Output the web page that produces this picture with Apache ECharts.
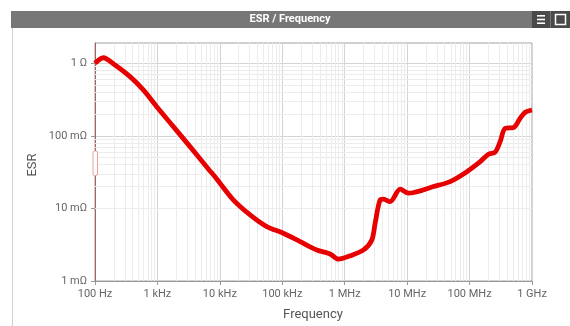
<!DOCTYPE html>
<html><head><meta charset="utf-8">
<script src="https://cdn.jsdelivr.net/npm/echarts@6/dist/echarts.min.js"></script>
<style>html,body{margin:0;padding:0;background:#fff}#c{width:570px;height:326px}</style>
</head><body><div id="c"></div>
<script>
// Frequency (Hz)
const freq = [100, 136, 209, 364, 594, 975, 1800, 3330, 6540, 8910, 16400, 30500, 56400, 104000, 193000, 357000, 583000, 793000, 1220000, 2000000, 2720000, 3070000, 3690000, 4170000, 5340000, 7740000, 10500000, 26400000, 48800000, 90600000, 148000000, 201000000, 257000000, 309000000, 372000000, 506000000, 647000000, 778000000, 1000000000];
// ESR (Ohm)
const esr = [1.0, 1.19, 0.947, 0.654, 0.429, 0.252, 0.134, 0.071, 0.035, 0.0255, 0.0131, 0.00813, 0.00561, 0.00455, 0.00349, 0.00268, 0.00236, 0.0020, 0.00222, 0.00268, 0.00368, 0.00625, 0.0131, 0.0134, 0.0124, 0.0184, 0.0162, 0.0200, 0.0234, 0.0321, 0.0441, 0.0558, 0.0595, 0.0832, 0.127, 0.130, 0.175, 0.211, 0.227];
const xTicks = [1e2, 1e3, 1e4, 1e5, 1e6, 1e7, 1e8, 1e9];
const xTickLabels = ['100 Hz', '1 kHz', '10 kHz', '100 kHz', '1 MHz', '10 MHz', '100 MHz', '1 GHz'];
const yTicks = [0.001, 0.01, 0.1, 1];
const yTickLabels = ['1 mΩ', '10 mΩ', '100 mΩ', '1 Ω'];

const xMinor = [], yMinor = [];
for (let d = 0; d < xTicks.length - 1; d++) for (let k = 2; k <= 9; k++) xMinor.push(xTicks[d] * k);
for (let d = 0; d < yTicks.length; d++) for (let k = 2; k <= 9; k++) { const v = yTicks[d] * k; if (v < 1.9) yMinor.push(v); }

const chart = echarts.init(document.getElementById('c'), null, {renderer: 'canvas'});
const font = 'Roboto, "Open Sans", sans-serif';
chart.setOption({
  animation: false,
  grid: {left: 95, right: 38, top: 43, bottom: 45, show: true, borderColor: '#a0a0a0', borderWidth: 1},
  xAxis: {
    type: 'log', min: 100, max: 1e9, splitNumber: 7, logBase: 10,
    axisLine: {show: true, lineStyle: {color: '#999'}},
    axisTick: {show: true, length: 4, lineStyle: {color: '#999'}, customValues: xTicks},
    axisLabel: {color: '#666', fontSize: 11, fontFamily: font, margin: 8, customValues: xTicks,
      formatter: v => { const i = xTicks.findIndex(t => Math.abs(t - v) / t < 1e-6); return i >= 0 ? xTickLabels[i] : ''; }},
    splitLine: {show: true, lineStyle: {color: '#d4d4d4'}}
  },
  yAxis: {
    type: 'log', min: 0.001, max: 1.9, splitNumber: 3, logBase: 10,
    axisLine: {show: true, lineStyle: {color: '#a86060'}},
    axisTick: {show: true, length: 4, lineStyle: {color: '#999'}, customValues: yTicks},
    axisLabel: {color: '#666', fontSize: 11, fontFamily: font, margin: 8, customValues: yTicks,
      formatter: v => { const i = yTicks.findIndex(t => Math.abs(t - v) / t < 1e-6); return i >= 0 ? yTickLabels[i] : ''; }},
    splitLine: {show: true, lineStyle: {color: '#d4d4d4'}}
  },
  series: [{
    type: 'line', data: freq.map((f, i) => [f, esr[i]]), smooth: 0.3, showSymbol: false,
    lineStyle: {color: '#e60000', width: 4.8}, z: 5,
    markLine: {silent: true, symbol: 'none', label: {show: false}, animation: false,
      lineStyle: {color: '#ececec', type: 'solid', width: 1},
      data: xMinor.map(v => ({xAxis: v})).concat(yMinor.map(v => ({yAxis: v})))}
  }],
  graphic: [
    {type: 'rect', shape: {x: 11, y: 11, width: 559, height: 17}, style: {fill: '#777'}, z: 10},
    {type: 'rect', shape: {x: 532, y: 11, width: 38, height: 17}, style: {fill: '#4a4a4a'}, z: 11},
    {type: 'line', shape: {x1: 550.5, y1: 11, x2: 550.5, y2: 28}, style: {stroke: '#777', lineWidth: 1}, z: 12},
    {type: 'rect', shape: {x: 537, y: 15, width: 8, height: 1.6}, style: {fill: '#fff'}, z: 12},
    {type: 'rect', shape: {x: 537, y: 18.7, width: 8, height: 1.6}, style: {fill: '#fff'}, z: 12},
    {type: 'rect', shape: {x: 537, y: 22.4, width: 8, height: 1.6}, style: {fill: '#fff'}, z: 12},
    {type: 'rect', shape: {x: 555.5, y: 14.5, width: 10, height: 10}, style: {fill: 'none', stroke: '#fff', lineWidth: 1.5}, z: 12},
    {type: 'text', x: 290, y: 19.5, style: {text: 'ESR / Frequency', fill: '#fff', font: 'bold 11px ' + font, textAlign: 'center', textVerticalAlign: 'middle'}, z: 12},
    {type: 'line', shape: {x1: 12.5, y1: 28, x2: 12.5, y2: 326}, style: {stroke: '#d0d0d0', lineWidth: 1}, z: 1},
    {type: 'text', x: 313, y: 315, style: {text: 'Frequency', fill: '#555', font: '13px ' + font, textAlign: 'center', textVerticalAlign: 'middle'}, z: 12},
    {type: 'text', x: 33, y: 165, rotation: Math.PI / 2, style: {text: 'ESR', fill: '#555', font: '13px ' + font, textAlign: 'center', textVerticalAlign: 'middle'}, z: 12},
    {type: 'rect', shape: {x: 93, y: 151, width: 4.5, height: 24.5, r: 1.5}, style: {fill: '#fff', stroke: '#e8a0a0', lineWidth: 1}, z: 12}
  ]
});
</script></body></html>
